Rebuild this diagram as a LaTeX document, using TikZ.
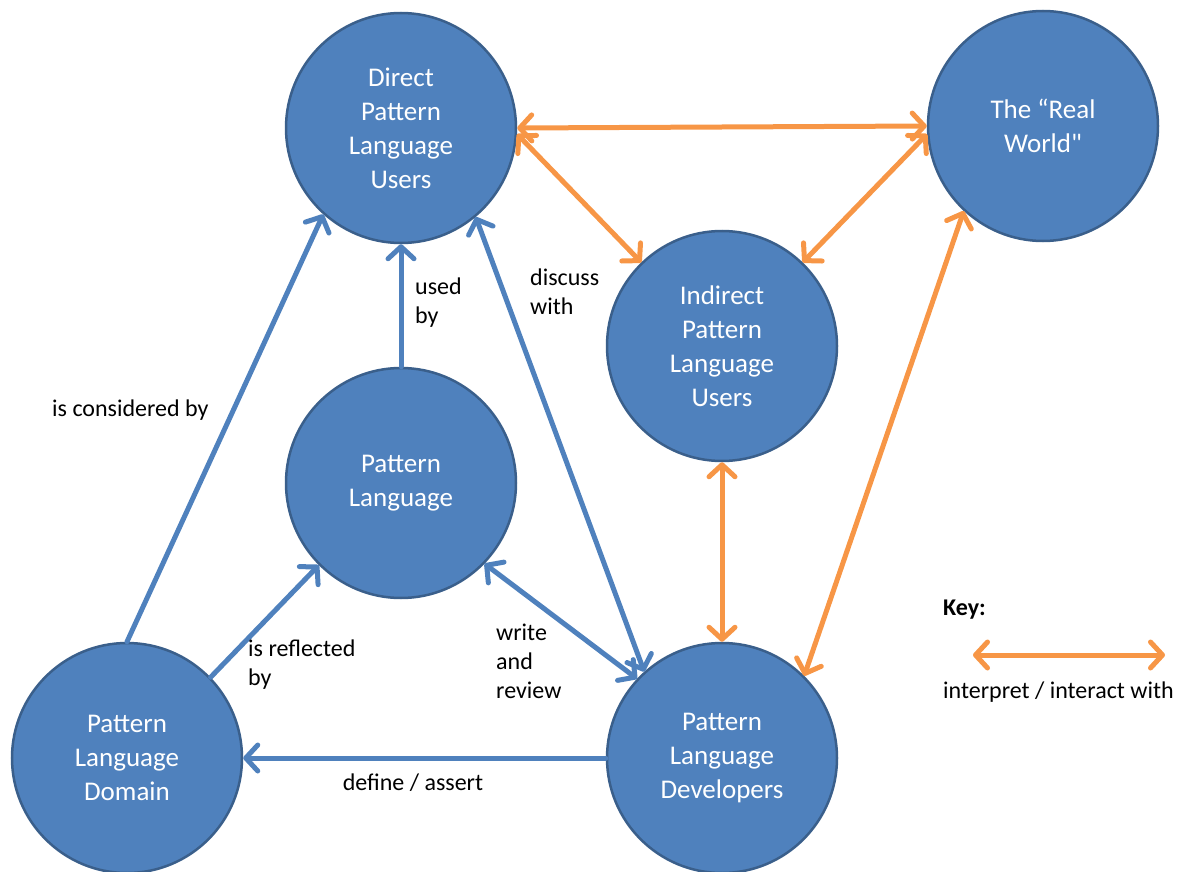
\documentclass[tikz,border=0pt]{standalone}
\usepackage{fontspec}
\setmainfont{Carlito}
% same face without TeX quote ligatures, for a straight double quote
\newfontfamily\rawq{Carlito}
\usetikzlibrary{arrows.meta}
\definecolor{nodefill}{HTML}{4F81BD}
\definecolor{nodeedge}{HTML}{3A5F8B}
\definecolor{flowblue}{HTML}{4F81BD}
\definecolor{flowora}{HTML}{F79646}
\begin{document}
\begin{tikzpicture}[x=1pt,y=-1pt,
  role/.style={circle,fill=nodefill,draw=nodeedge,line width=2.5pt,
    minimum size=230pt,inner sep=0pt,text=white,align=center,
    font=\fontsize{27}{34}\selectfont},
  lbl/.style={align=left,anchor=west,inner sep=0pt,
    font=\fontsize{24}{29}\selectfont},
  barb/.style={-{Straight Barb[length=12pt,width=26pt,line cap=round,line join=round]}},
  dbarb/.style={{Straight Barb[length=12pt,width=26pt,line cap=round,line join=round]}-{Straight Barb[length=12pt,width=26pt,line cap=round,line join=round]}},
  bluelink/.style={draw=flowblue,line width=5pt,line cap=round},
  oralink/.style={draw=flowora,line width=5pt,line cap=round}]
\useasboundingbox (0,0) rectangle (1184,872);

% participants
\node[role] (dir) at (401,128) {Direct\\Pattern\\Language\\Users};
\node[role] (rw)  at (1043,126) {The “Real\\World{\rawq"}};
\node[role] (ind) at (722,346) {Indirect\\Pattern\\Language\\Users};
\node[role] (pl)  at (401,483) {Pattern\\Language};
\node[role] (dom) at (127,758) {Pattern\\Language\\Domain};
\node[role] (dev) at (722,758) {Pattern\\Language\\Developers};

% blue relations
\draw[bluelink,barb]  (dom.90)  -- (dir.228);
\draw[bluelink,barb]  (dom.44)  -- (pl.225);
\draw[bluelink,barb]  (pl.90)   -- (dir.270);
\draw[bluelink,dbarb] (dir.-50) -- (dev.132);
\draw[bluelink,dbarb] (pl.-44)  -- (dev.137);
\draw[bluelink,barb]  (dev.180) -- (dom.0);

% orange interactions
\draw[oralink,dbarb] (dir.0)   -- (rw.180);
\draw[oralink,dbarb] (dir.-3)  -- (ind.134);
\draw[oralink,dbarb] (rw.184)  -- (ind.46);
\draw[oralink,dbarb] (ind.270) -- (dev.90);
\draw[oralink,dbarb] (rw.227)  -- (dev.45);

% relation labels
\node[lbl] (l1) at (52,410)  {is considered by};
\node[lbl] (l2) at (248,665) {is reflected\\by};
\node[lbl] (l3) at (415,303) {used\\by};
\node[lbl] (l4) at (530,292) {discuss\\with};
\node[lbl] (l5) at (496,661) {write\\and\\review};
\node[lbl,anchor=center] (l6) at (413,783) {define / assert};

% key
\node[lbl] (keyt) at (943,610) {\bfseries Key:};
\coordinate (ka) at (973,655);
\coordinate (kb) at (1165,655);
\draw[oralink,dbarb] (ka) -- (kb);
\node[lbl] (keyl) at (943,692) {interpret / interact with};
\end{tikzpicture}
\end{document}
